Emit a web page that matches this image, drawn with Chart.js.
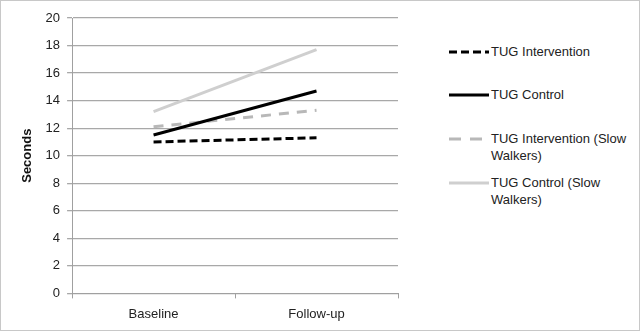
<!DOCTYPE html>
<html>
<head>
<meta charset="utf-8">
<script src="https://cdn.jsdelivr.net/npm/chart.js@4"></script>
<style>
  body { margin: 0; background: #fff; }
  #wrap { position: relative; width: 638px; height: 329px; border: 1px solid #c8c8c8; background: #fff; }
  #box { position: absolute; left: 0; top: 0; width: 420px; height: 329px; }
  #legend { position: absolute; left: 448px; top: 0; font-family: "Liberation Sans", Arial, sans-serif; font-size: 13px; color: #222; }
  .item { position: absolute; left: 0; width: 190px; }
  .swatch { position: absolute; left: 0; top: 0; }
  .txt { position: absolute; left: 42px; line-height: 17px; white-space: nowrap; }
</style>
</head>
<body>
<div id="wrap">
  <div id="box"><canvas id="myChart"></canvas></div>
  <div id="legend"></div>
</div>
<script>
const categories = ['Baseline', 'Follow-up'];
const seriesNames = ['TUG Intervention', 'TUG Control', 'TUG Intervention (Slow\nWalkers)', 'TUG Control (Slow\nWalkers)'];
const tugIntervention = [11.0, 11.3];
const tugControl = [11.5, 14.7];
const tugInterventionSlow = [12.1, 13.3];
const tugControlSlow = [13.2, 17.7];
const yTicks = [0, 2, 4, 6, 8, 10, 12, 14, 16, 18, 20];

const colors = ['#000000', '#000000', '#b8b8b8', '#cfcfcf'];
const dashes = [[8, 4], [], [10, 8], []];
const widths = [3, 3, 3, 3];
const values = [tugIntervention, tugControl, tugInterventionSlow, tugControlSlow];

const data = {
  labels: categories,
  datasets: values.map((v, i) => ({
    label: seriesNames[i].replace('\n', ' '),
    data: v,
    borderColor: colors[i],
    borderWidth: widths[i],
    borderDash: dashes[i],
    pointRadius: 0,
    fill: false,
    tension: 0
  }))
};

const config = {
  type: 'line',
  data: data,
  options: {
    responsive: true,
    maintainAspectRatio: false,
    animation: false,
    layout: { padding: { top: 17, right: 23, bottom: 0, left: 15 } },
    plugins: { legend: { display: false }, tooltip: { enabled: false } },
    scales: {
      x: {
        offset: true,
        grid: { display: true, drawOnChartArea: false, drawTicks: true, tickLength: 5, offset: true, color: '#a0a0a0' },
        border: { color: '#a0a0a0' },
        ticks: { color: '#222', font: { family: 'Liberation Sans', size: 13 }, padding: 8 }
      },
      y: {
        min: 0,
        max: 20,
        afterBuildTicks: axis => { axis.ticks = yTicks.map(v => ({ value: v })); },
        grid: { color: '#a8a8a8', lineWidth: 1.3, tickLength: 5 },
        border: { color: '#a0a0a0' },
        ticks: { color: '#222', font: { family: 'Liberation Sans', size: 13 }, padding: 7 },
        title: { display: true, text: 'Seconds', color: '#111', font: { family: 'Liberation Sans', size: 13, weight: 'bold' }, padding: { bottom: 3 } }
      }
    }
  }
};

const myChart = new Chart(document.getElementById('myChart'), config);

// legend, built as html so long labels can wrap like the original
const legendTops = [42, 85, 129, 173];
const legendDash = ['8 4', '', '12 9', ''];
const legend = document.getElementById('legend');
seriesNames.forEach((name, i) => {
  const item = document.createElement('div');
  item.className = 'item';
  item.style.top = legendTops[i] + 'px';
  const sw = '<svg class="swatch" width="40" height="17"><line x1="0" y1="9" x2="40" y2="9" stroke="' + colors[i] +
    '" stroke-width="' + widths[i] + '"' + (legendDash[i] ? ' stroke-dasharray="' + legendDash[i] + '"' : '') + '/></svg>';
  item.innerHTML = sw + '<div class="txt">' + name.replace('\n', '<br>') + '</div>';
  legend.appendChild(item);
});
</script>
</body>
</html>
